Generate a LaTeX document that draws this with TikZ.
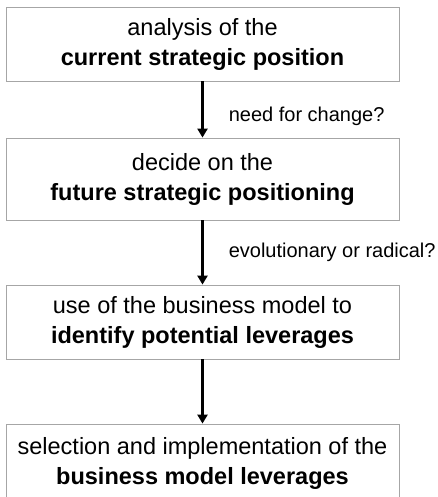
\documentclass[tikz,border=0pt]{standalone}
\usepackage{fontspec}
\setmainfont{Liberation Sans}
\usetikzlibrary{arrows.meta}
\definecolor{boxgray}{HTML}{A6A6A6}

\begin{document}
\begin{tikzpicture}[x=1pt,y=-1pt,
  stage/.style={draw=boxgray,line width=0.8pt,fill=white,minimum width=393pt,
    minimum height=74pt,inner sep=0pt,align=center,font=\fontsize{23.5}{30}\selectfont},
  flow/.style={line width=2.6pt,-{Triangle[width=10pt,length=9pt]}},
  cue/.style={font=\fontsize{20}{24}\selectfont,anchor=west,inner sep=0pt,xshift=25pt}]
  \useasboundingbox (0,0) rectangle (438,497);
  \clip (0,0) rectangle (438,497);
  % the four stages
  \node[stage] (s1) at (202.5,44) {analysis of the\\\textbf{current strategic position}};
  \node[stage,minimum height=82pt] (s2) at (202.5,179) {decide on the\\\textbf{future strategic positioning}};
  \node[stage] (s3) at (202.5,322) {use of the business model to\\\textbf{identify potential leverages}};
  \node[stage,minimum height=78pt] (s4) at (202.5,463) {selection and implementation of the\\\textbf{business model leverages}};
  % connectors
  \draw[flow] (s1) -- node[cue,pos=0.62] (q1) {need for change?} (s2);
  \draw[flow] (s2) -- node[cue,pos=0.5] (q2) {evolutionary or radical?} (s3);
  \draw[flow] (s3) -- (s4);
\end{tikzpicture}
\end{document}
